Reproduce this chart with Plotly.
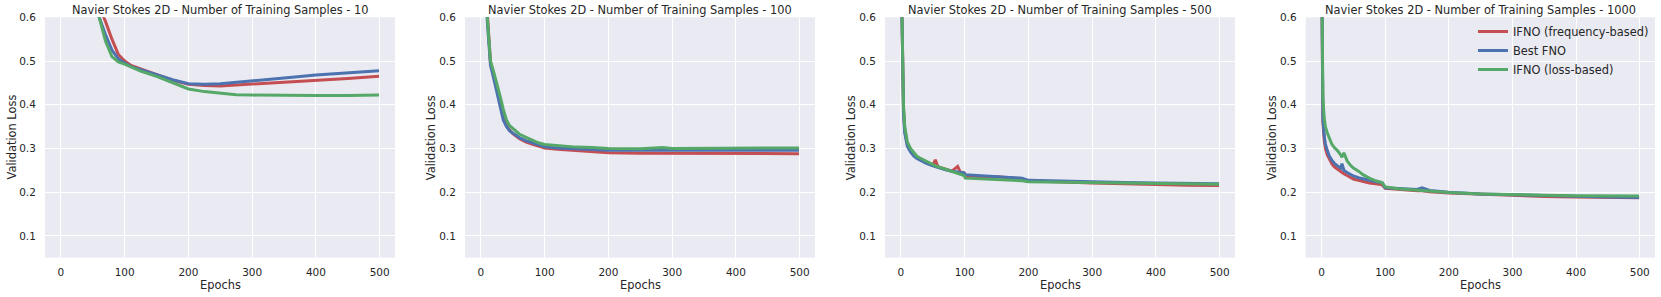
import plotly.graph_objects as go

# ---------------- data ----------------
series_names = ["IFNO (frequency-based)", "Best FNO", "IFNO (loss-based)"]
series_colors = ["#C44E52", "#4C72B0", "#55A868"]
panel_titles = [
    "Navier Stokes 2D - Number of Training Samples - 10",
    "Navier Stokes 2D - Number of Training Samples - 100",
    "Navier Stokes 2D - Number of Training Samples - 500",
    "Navier Stokes 2D - Number of Training Samples - 1000",
]
x_ticks = [0, 100, 200, 300, 400, 500]
y_ticks = [0.1, 0.2, 0.3, 0.4, 0.5, 0.6]

# Panel 1: 10 samples
epochs_10 = [0, 20, 40, 60, 70, 80, 90, 100, 110, 125, 150, 175, 200, 225, 250, 275, 300, 350, 400, 450, 499]
red_10 = [1.0, 0.85, 0.72, 0.625, 0.59, 0.55, 0.515, 0.500, 0.490, 0.482, 0.469, 0.456, 0.447, 0.444, 0.443, 0.445, 0.447, 0.451, 0.456, 0.460, 0.465]
blue_10 = [0.98, 0.83, 0.70, 0.60, 0.56, 0.525, 0.505, 0.495, 0.487, 0.480, 0.468, 0.457, 0.448, 0.447, 0.448, 0.451, 0.455, 0.461, 0.468, 0.473, 0.478]
green_10 = [0.98, 0.83, 0.70, 0.60, 0.545, 0.51, 0.498, 0.493, 0.486, 0.477, 0.465, 0.451, 0.436, 0.430, 0.426, 0.423, 0.422, 0.421, 0.421, 0.421, 0.422]

# Panel 2: 100 samples
epochs_100 = [0, 5, 10, 15, 20, 25, 30, 35, 40, 45, 50, 60, 70, 80, 90, 100, 120, 150, 175, 200, 250, 285, 300, 350, 400, 450, 499]
red_100 = [0.96, 0.76, 0.61, 0.495, 0.465, 0.44, 0.41, 0.375, 0.352, 0.342, 0.334, 0.323, 0.315, 0.31, 0.305, 0.301, 0.298, 0.295, 0.292, 0.290, 0.289, 0.289, 0.288, 0.288, 0.288, 0.288, 0.288]
blue_100 = [0.95, 0.74, 0.59, 0.49, 0.46, 0.43, 0.395, 0.365, 0.35, 0.34, 0.335, 0.325, 0.318, 0.313, 0.308, 0.304, 0.301, 0.299, 0.297, 0.296, 0.296, 0.296, 0.296, 0.296, 0.296, 0.296, 0.296]
green_100 = [0.95, 0.75, 0.60, 0.50, 0.475, 0.45, 0.42, 0.39, 0.365, 0.352, 0.345, 0.333, 0.326, 0.32, 0.313, 0.309, 0.306, 0.303, 0.302, 0.300, 0.299, 0.302, 0.300, 0.300, 0.300, 0.301, 0.301]

# Panel 3: 500 samples
epochs_500 = [0, 2, 4, 6, 8, 10, 15, 20, 25, 30, 40, 50, 54, 58, 70, 80, 89, 93, 99, 101, 120, 150, 180, 190, 200, 250, 300, 350, 400, 450, 499]
red_500 = [0.75, 0.51, 0.39, 0.34, 0.32, 0.31, 0.295, 0.285, 0.279, 0.275, 0.267, 0.262, 0.274, 0.258, 0.252, 0.248, 0.259, 0.246, 0.244, 0.238, 0.236, 0.235, 0.232, 0.230, 0.226, 0.223, 0.221, 0.219, 0.217, 0.216, 0.215]
blue_500 = [0.74, 0.50, 0.38, 0.335, 0.315, 0.305, 0.292, 0.283, 0.277, 0.273, 0.266, 0.260, 0.258, 0.256, 0.251, 0.248, 0.246, 0.245, 0.244, 0.240, 0.238, 0.236, 0.233, 0.232, 0.227, 0.225, 0.223, 0.222, 0.221, 0.220, 0.219]
green_500 = [0.75, 0.52, 0.40, 0.35, 0.33, 0.315, 0.300, 0.290, 0.282, 0.278, 0.270, 0.262, 0.260, 0.258, 0.252, 0.246, 0.242, 0.240, 0.238, 0.232, 0.231, 0.229, 0.228, 0.226, 0.224, 0.223, 0.222, 0.221, 0.220, 0.219, 0.218]

# Panel 4: 1000 samples
epochs_1000 = [0, 1, 2, 4, 6, 9, 12, 16, 20, 25, 30, 32, 35, 40, 45, 50, 58, 65, 75, 85, 95, 100, 120, 150, 158, 170, 200, 250, 300, 350, 400, 450, 499]
red_1000 = [0.75, 0.44, 0.36, 0.32, 0.30, 0.285, 0.275, 0.265, 0.258, 0.252, 0.246, 0.245, 0.242, 0.238, 0.234, 0.230, 0.227, 0.224, 0.221, 0.219, 0.217, 0.209, 0.206, 0.203, 0.203, 0.201, 0.198, 0.195, 0.192, 0.190, 0.189, 0.188, 0.187]
blue_1000 = [0.75, 0.45, 0.37, 0.33, 0.31, 0.295, 0.283, 0.273, 0.266, 0.260, 0.255, 0.265, 0.250, 0.245, 0.240, 0.237, 0.233, 0.230, 0.227, 0.224, 0.222, 0.210, 0.208, 0.206, 0.210, 0.204, 0.200, 0.196, 0.194, 0.192, 0.190, 0.189, 0.188]
green_1000 = [0.75, 0.55, 0.42, 0.37, 0.35, 0.335, 0.322, 0.310, 0.302, 0.295, 0.285, 0.280, 0.290, 0.272, 0.262, 0.255, 0.248, 0.240, 0.232, 0.226, 0.222, 0.212, 0.208, 0.205, 0.204, 0.203, 0.199, 0.196, 0.194, 0.193, 0.192, 0.191, 0.191]

panels = [
    (epochs_10, [red_10, blue_10, green_10]),
    (epochs_100, [red_100, blue_100, green_100]),
    (epochs_500, [red_500, blue_500, green_500]),
    (epochs_1000, [red_1000, blue_1000, green_1000]),
]

# ---------------- layout geometry ----------------
W, H = 1661, 297
x_px = [(45, 395), (465, 815), (885, 1235), (1305.7, 1655)]
y_top, y_bot = 17.3, 257.7
ylabel_px = [11, 430.7, 850.7, 1271.7]
TXT = "#262626"
FONT = "DejaVu Sans"
F_TITLE, F_LABEL, F_TICK, F_LEG = 11.4, 11.4, 10.5, 11.4

fig = go.Figure()
layout = dict(
    width=W, height=H, autosize=False,
    margin=dict(l=0, r=0, t=0, b=0, autoexpand=False),
    paper_bgcolor="white", plot_bgcolor="#EAEAF2",
    font=dict(family=FONT, color=TXT),
    showlegend=True,
    legend=dict(
        x=1654 / W, y=1 - 17 / H, xanchor="right", yanchor="top",
        bgcolor="rgba(0,0,0,0)", font=dict(size=F_LEG, color=TXT, family=FONT),
        itemwidth=30, tracegroupgap=0,
    ),
)
annotations = []
for i, (epochs, vals) in enumerate(panels):
    xa = "x" if i == 0 else f"x{i+1}"
    ya = "y" if i == 0 else f"y{i+1}"
    for j in range(3):
        fig.add_trace(go.Scatter(
            x=epochs, y=vals[j], mode="lines", name=series_names[j],
            line=dict(color=series_colors[j], width=3),
            xaxis=xa, yaxis=ya, showlegend=(i == 3), legendgroup=series_names[j],
        ))
    xk = "xaxis" if i == 0 else f"xaxis{i+1}"
    yk = "yaxis" if i == 0 else f"yaxis{i+1}"
    l, r = x_px[i]
    layout[xk] = dict(
        domain=[l / W, r / W], anchor=ya, range=[-25, 524], automargin=False,
        tickvals=x_ticks, ticktext=[str(t) for t in x_ticks],
        showgrid=True, gridcolor="white", gridwidth=1.2, zeroline=False, showline=False,
        ticks="outside", ticklen=5, tickcolor="rgba(0,0,0,0)",
        tickfont=dict(size=F_TICK, color=TXT, family=FONT),
    )
    layout[yk] = dict(
        domain=[1 - y_bot / H, 1 - y_top / H], anchor=xa, range=[0.05, 0.6], automargin=False,
        tickvals=y_ticks, ticktext=[f"{t:.1f}" for t in y_ticks],
        showgrid=True, gridcolor="white", gridwidth=1.2, zeroline=False, showline=False,
        ticks="outside", ticklen=6, tickcolor="rgba(0,0,0,0)",
        tickfont=dict(size=F_TICK, color=TXT, family=FONT),
    )
    cx = (l + r) / 2 / W
    annotations.append(dict(text=panel_titles[i], x=cx, y=1 - 9.5 / H, xref="paper", yref="paper",
                            xanchor="center", yanchor="middle", showarrow=False,
                            font=dict(size=F_TITLE, color=TXT, family=FONT)))
    annotations.append(dict(text="Epochs", x=cx, y=1 - 285 / H, xref="paper", yref="paper",
                            xanchor="center", yanchor="middle", showarrow=False,
                            font=dict(size=F_LABEL, color=TXT, family=FONT)))
    annotations.append(dict(text="Validation Loss", x=ylabel_px[i] / W, y=1 - (y_top + y_bot) / 2 / H,
                            xref="paper", yref="paper", xanchor="center", yanchor="middle",
                            textangle=-90, showarrow=False,
                            font=dict(size=F_LABEL, color=TXT, family=FONT)))
layout["annotations"] = annotations
fig.update_layout(**layout)
fig.write_html(
    "out.html",
    config={"displayModeBar": False},
    post_script="document.body.style.margin='0';document.body.style.padding='0';"
                "document.body.style.overflow='hidden';",
)
